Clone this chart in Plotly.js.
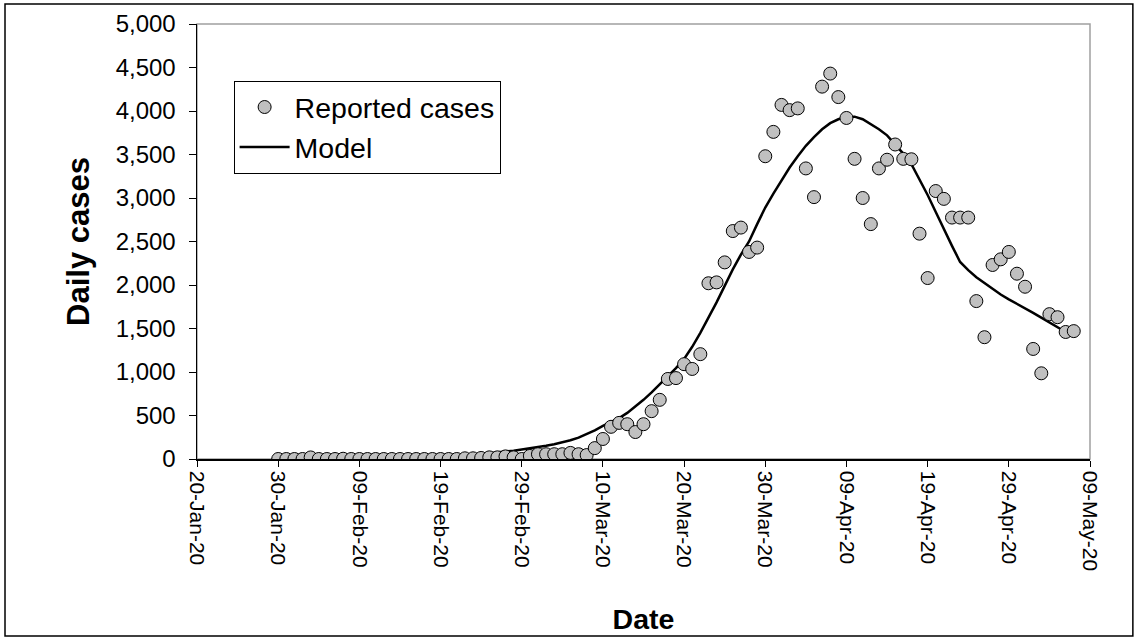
<!DOCTYPE html>
<html>
<head>
<meta charset="utf-8">
<script src="https://cdn.plot.ly/plotly-3.0.1.min.js"></script>
<style>
  html, body { margin: 0; padding: 0; background: #ffffff; }
  #chart { width: 1138px; height: 640px; }
</style>
</head>
<body>
<div id="chart"></div>
<script>
// Daily series, one value per day, both starting on 30 Jan 2020
const seriesStart = [2020, 0, 30];

const reportedCases = [
  0, 0, 0, 0, 18, 0, 0, 0, 3, 0,            // 30 Jan - 08 Feb
  0, 0, 0, 0, 0, 0, 0, 0, 0, 0,             // 09 Feb - 18 Feb
  0, 0, 0, 8, 8, 12, 19, 19, 30, 19,        // 19 Feb - 28 Feb
  0, 35, 55, 55, 55, 55, 70, 55, 45, 125,   // 29 Feb - 09 Mar
  230, 370, 415, 400, 310, 400, 550, 680, 920, 930,        // 10 Mar - 19 Mar
  1090, 1035, 1205, 2020, 2030, 2260, 2620, 2660, 2380, 2430, // 20 Mar - 29 Mar
  3480, 3760, 4070, 4010, 4030, 3340, 3010, 4280, 4430, 4160, // 30 Mar - 08 Apr
  3920, 3450, 3000, 2700, 3340, 3440, 3615, 3450, 3445, 2590, // 09 Apr - 18 Apr
  2080, 3080, 2990, 2775, 2775, 2775, 1815, 1400, 2230, 2295, // 19 Apr - 28 Apr
  2380, 2130, 1980, 1265, 985, 1665, 1630, 1460, 1470         // 29 Apr - 07 May
];

const modelCases = [
  2, 2, 3, 3, 4, 4, 5, 6, 6, 7,                 // 30 Jan - 08 Feb
  8, 9, 11, 12, 14, 16, 18, 21, 24, 27,         // 09 Feb - 18 Feb
  31, 35, 40, 45, 51, 58, 66, 74, 84, 96,       // 19 Feb - 28 Feb
  110, 122, 136, 152, 170, 190, 215, 245, 285, 330, // 29 Feb - 09 Mar
  380, 425, 470, 530, 600, 680, 765, 855, 950, 1045,          // 10 Mar - 19 Mar
  1150, 1290, 1450, 1620, 1800, 1990, 2180, 2350, 2500, 2700, // 20 Mar - 29 Mar
  2890, 3050, 3200, 3350, 3480, 3600, 3700, 3790, 3860, 3905, // 30 Mar - 08 Apr
  3930, 3935, 3905, 3850, 3790, 3720, 3620, 3510, 3390, 3220, // 09 Apr - 18 Apr
  3035, 2840, 2640, 2450, 2265, 2170, 2090, 2020, 1955, 1890, // 19 Apr - 28 Apr
  1835, 1785, 1735, 1680, 1625, 1570, 1515, 1460              // 29 Apr - 06 May
];

const xRange = ['2020-01-20', '2020-05-09'];
const tickStart = '2020-01-20';
const tickStepDays = 10;

function dayLabels(n) {
  const out = [];
  for (let i = 0; i < n; i++) {
    const d = new Date(Date.UTC(seriesStart[0], seriesStart[1], seriesStart[2] + i));
    out.push(d.toISOString().slice(0, 10));
  }
  return out;
}

const FONT = 'Liberation Sans, Arial, sans-serif';

const modelTrace = {
  type: 'scatter',
  mode: 'lines',
  name: 'Model',
  x: dayLabels(modelCases.length),
  y: modelCases,
  line: { color: '#000000', width: 2.5 },
  hoverinfo: 'skip'
};

const reportedTrace = {
  type: 'scatter',
  mode: 'markers',
  name: 'Reported cases',
  x: dayLabels(reportedCases.length),
  y: reportedCases,
  marker: {
    symbol: 'circle',
    size: 13,
    color: '#c0c0c0',
    line: { color: '#000000', width: 1 }
  },
  hoverinfo: 'skip'
};

const layout = {
  width: 1138,
  height: 640,
  margin: { l: 197, r: 48, t: 24, b: 181 },
  paper_bgcolor: '#ffffff',
  plot_bgcolor: '#ffffff',
  font: { family: FONT, color: '#000000' },
  showlegend: true,
  legend: {
    x: 0.041, y: 0.869, xanchor: 'left', yanchor: 'top',
    traceorder: 'reversed',
    itemwidth: 50,
    bgcolor: '#ffffff',
    bordercolor: '#000000',
    borderwidth: 1,
    font: { family: FONT, size: 28.5, color: '#000000' }
  },
  xaxis: {
    type: 'date',
    range: xRange,
    tick0: tickStart,
    dtick: tickStepDays * 86400000,
    tickformat: '%d-%b-%y',
    tickangle: 90,
    ticks: 'outside',
    ticklen: 6,
    tickwidth: 1,
    tickcolor: '#000000',
    showline: true,
    linecolor: '#000000',
    linewidth: 1.5,
    showgrid: false,
    zeroline: false,
    tickfont: { family: FONT, size: 21, color: '#000000' },
    title: { text: '<b>Date</b>', font: { family: FONT, size: 28.5, color: '#000000' }, standoff: 39 },
    automargin: false
  },
  yaxis: {
    range: [0, 5000],
    dtick: 500,
    tickformat: ',d',
    ticks: 'outside',
    ticklen: 7,
    tickwidth: 1,
    tickcolor: '#000000',
    ticklabelstandoff: 8,
    showline: true,
    linecolor: '#000000',
    linewidth: 1.5,
    showgrid: false,
    zeroline: false,
    tickfont: { family: FONT, size: 24, color: '#000000' },
    title: { text: '<b>Daily cases</b>', font: { family: FONT, size: 31, color: '#000000' }, standoff: 17 },
    automargin: false
  },
  shapes: [
    // light frame around the plotting area
    { type: 'rect', xref: 'paper', yref: 'paper', x0: 0, x1: 1, y0: 0, y1: 1,
      line: { color: '#a0a0a0', width: 1.5 }, layer: 'below' },
    // outer chart border
    { type: 'rect', xref: 'paper', yref: 'paper', x0: -0.215, x1: 1.048, y0: -0.407, y1: 1.046,
      line: { color: '#000000', width: 1.5 }, layer: 'above' }
  ]
};

Plotly.newPlot('chart', [modelTrace, reportedTrace], layout, { staticPlot: true, displayModeBar: false });
</script>
</body>
</html>
